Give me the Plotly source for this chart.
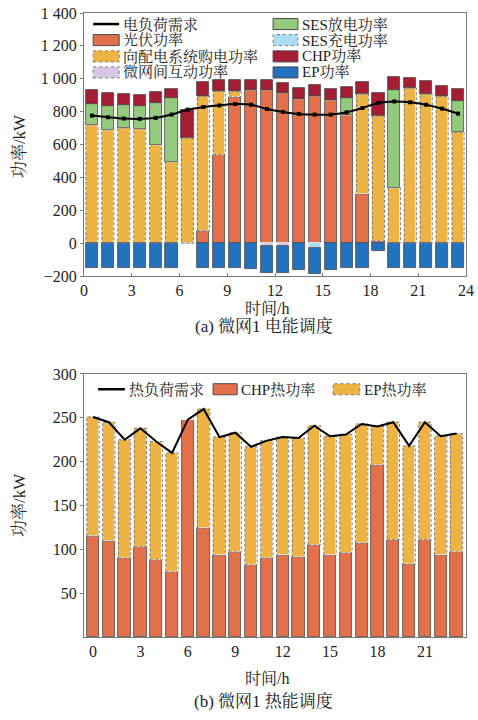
import plotly.graph_objects as go
from plotly.subplots import make_subplots

# ---------------- data: (a) electric dispatch ----------------
hours = list(range(24))
pv_power = [0, 0, 0, 0, 0, 0, 0, 75, 539, 889, 929, 929, 913, 879, 893, 873, 778, 297, 15, 0, 0, 0, 0, 0]
grid_buy = [721, 691, 701, 695, 600, 495, 641, 818, 384, 34, 0, 0, 0, 0, 0, 0, 0, 612, 761, 338, 944, 907, 893, 675]
ses_dis = [127, 141, 141, 137, 253, 388, 0, 0, 0, 0, 0, 0, 0, 0, 0, 0, 105, 0, 0, 595, 0, 0, 0, 192]
chp_power = [81, 81, 67, 71, 64, 56, 171, 85, 71, 71, 65, 61, 61, 65, 71, 65, 67, 71, 137, 77, 60, 81, 65, 71]
mg_inter = [0, 0, 0, 0, 0, 0, 0, 0, 0, 0, 0, -20, -20, 0, 0, 0, 0, 0, 0, 0, 0, 0, 0, 0]
ses_chg = [0, 0, 0, 0, 0, 0, 0, 0, 0, 0, 0, 0, 0, 0, -27, 0, 0, 0, 0, 0, 0, 0, 0, 0]
ep_power = [-152, -152, -152, -152, -152, -152, 0, -152, -152, -152, -158, -160, -160, -162, -160, -162,
            -150, -150, -47, -152, -152, -152, -152, -152]
elec_load = [776, 766, 758, 756, 762, 782, 812, 828, 838, 846, 842, 816, 798, 786, 782, 782, 796, 822,
             853, 862, 857, 842, 818, 788]
elec_yticks = [-200, 0, 200, 400, 600, 800, 1000, 1200, 1400]
elec_yticklabels = ["−200", "0", "200", "400", "600", "800", "1 000", "1 200", "1 400"]
elec_xticks = [0, 3, 6, 9, 12, 15, 18, 21, 24]
elec_names = ["电负荷需求", "光伏功率", "向配电系统购电功率", "微网间互动功率",
              "SES放电功率", "SES充电功率", "CHP功率", "EP功率"]

# ---------------- data: (b) heat dispatch ----------------
chp_heat = [115, 109, 90, 103, 88, 74, 248, 124, 93, 97, 82, 90, 93, 91, 105, 93, 96, 107, 196, 111, 83, 111, 93, 97]
ep_heat = [136, 136, 135, 135, 135, 136, 0, 136, 135, 136, 135, 134, 135, 136, 136, 136, 135, 136, 44, 134, 135, 134, 136, 135]
heat_load = [251, 245, 225, 238, 223, 210, 248, 260, 228, 233, 217, 224, 228, 227, 241, 229, 231, 243, 240, 245,
             218, 245, 229, 232]
heat_yticks = [50, 100, 150, 200, 250, 300]
heat_xticks = [0, 3, 6, 9, 12, 15, 18, 21]
heat_names = ["热负荷需求", "CHP热功率", "EP热功率"]

# ---------------- style ----------------
FONT = "Liberation Serif, Noto Serif CJK SC, Noto Sans CJK SC, serif"
C_PV = "#E2704B"
C_GRID = "#EDB445"
C_SESD = "#93CA7E"
C_SESC = "#A8DDF2"
C_CHP = "#A51D32"
C_EP = "#2272BE"
C_MG = "#D9C7E6"
EDGE = "#4a4a4a"
DASH = "#7a7a7a"

fig = make_subplots(rows=2, cols=1, vertical_spacing=0.157)

xe = [h + 0.5 for h in hours]
bw_e = 0.76
bw_h = 0.78


def bar(name, x, y, color, dashed=False, width=bw_e):
    return go.Bar(
        name=name, x=x, y=y, width=width, showlegend=False,
        marker=dict(color=color, line=dict(color="white" if dashed else EDGE, width=0.8)),
    )


def dashed_outline(x, base, height, width):
    """Dashed outline traced around stacked bar segments (data coords)."""
    xs, ys = [], []
    for xi, b, h in zip(x, base, height):
        if h == 0:
            continue
        l, r = xi - width / 2, xi + width / 2
        t = b + h
        xs += [l, r, r, l, l, None]
        ys += [b, b, t, t, b, None]
    return go.Scatter(x=xs, y=ys, mode="lines", showlegend=False, hoverinfo="skip",
                      line=dict(color=DASH, width=1, dash="3px,2px"))


fig.add_trace(bar(elec_names[1], xe, pv_power, C_PV), row=1, col=1)
fig.add_trace(bar(elec_names[2], xe, grid_buy, C_GRID, True), row=1, col=1)
fig.add_trace(bar(elec_names[3], xe, mg_inter, C_MG, True), row=1, col=1)
fig.add_trace(bar(elec_names[5], xe, ses_chg, C_SESC, True), row=1, col=1)
fig.add_trace(bar(elec_names[4], xe, ses_dis, C_SESD), row=1, col=1)
fig.add_trace(bar(elec_names[6], xe, chp_power, C_CHP), row=1, col=1)
fig.add_trace(bar(elec_names[7], xe, ep_power, C_EP), row=1, col=1)
fig.add_trace(dashed_outline(xe, pv_power, grid_buy, bw_e), row=1, col=1)
fig.add_trace(go.Scatter(name=elec_names[0], x=xe, y=elec_load, mode="lines", showlegend=False,
                         line=dict(color="black", width=2, shape="spline")), row=1, col=1)
fig.add_trace(go.Scatter(x=xe, y=elec_load, mode="markers", showlegend=False,
                         marker=dict(color="black", size=4, symbol="square")), row=1, col=1)

fig.add_trace(bar(heat_names[1], hours, chp_heat, C_PV, width=bw_h), row=2, col=1)
fig.add_trace(bar(heat_names[2], hours, ep_heat, C_GRID, True, width=bw_h), row=2, col=1)
fig.add_trace(dashed_outline(hours, chp_heat, ep_heat, bw_h), row=2, col=1)
fig.add_trace(go.Scatter(name=heat_names[0], x=hours, y=heat_load, mode="lines", showlegend=False,
                         line=dict(color="black", width=2)), row=2, col=1)

axis_common = dict(showline=True, mirror=True, linecolor="#7a7a7a", linewidth=1, showgrid=False,
                   zeroline=False, ticklen=3, tickcolor="#7a7a7a", automargin=False,
                   ticklabeloverflow="allow",
                   tickfont=dict(family=FONT, size=16, color="#222"))

fig.update_xaxes(range=[0, 24], tickvals=elec_xticks, ticks="inside", row=1, col=1, **axis_common)
fig.update_yaxes(range=[-200, 1400], tickvals=elec_yticks, ticktext=elec_yticklabels, ticks="outside",
                 row=1, col=1, **axis_common)
fig.update_xaxes(range=[-0.57, 23.6], tickvals=heat_xticks, ticks="inside", row=2, col=1, **axis_common)
fig.update_yaxes(range=[0, 300], tickvals=heat_yticks, ticks="outside", row=2, col=1, **axis_common)

fig.update_layout(
    width=478, height=720,
    margin=dict(l=84, r=12, t=13, b=83, autoexpand=False),
    barmode="relative", bargap=0,
    plot_bgcolor="white", paper_bgcolor="white",
    font=dict(family=FONT, size=14, color="#222"),
    showlegend=False,
)

# ---------------- legends (drawn in axis-domain coordinates) ----------------
LEG_FONT = dict(family=FONT, size=15, color="#222")


def legend_item(xd, yd, x0, x1, yc, h, label, kind, color, dashed=False):
    if kind == "line":
        fig.add_shape(type="line", xref=xd, yref=yd, x0=x0, x1=x1, y0=yc, y1=yc,
                      line=dict(color="black", width=2.5))
    else:
        fig.add_shape(type="rect", xref=xd, yref=yd, x0=x0, x1=x1, y0=yc - h, y1=yc + h,
                      fillcolor=color,
                      line=dict(color=DASH if dashed else EDGE, width=1, dash="dot" if dashed else "solid"))
    fig.add_annotation(text=label, xref=xd, yref=yd, x=x1 + 0.006, y=yc, xanchor="left", yanchor="middle",
                       showarrow=False, font=LEG_FONT)


rows_y = [0.958, 0.897, 0.835, 0.774]
sh = 0.021
c1 = (0.024, 0.092)
c2 = (0.495, 0.560)
top_items = [
    (c1, rows_y[0], elec_names[0], "line", "black", False),
    (c1, rows_y[1], elec_names[1], "rect", C_PV, False),
    (c1, rows_y[2], elec_names[2], "rect", C_GRID, True),
    (c1, rows_y[3], elec_names[3], "rect", C_MG, True),
    (c2, rows_y[0], elec_names[4], "rect", C_SESD, False),
    (c2, rows_y[1], elec_names[5], "rect", C_SESC, True),
    (c2, rows_y[2], elec_names[6], "rect", C_CHP, False),
    (c2, rows_y[3], elec_names[7], "rect", C_EP, False),
]
for (a, b), yc, label, kind, color, dashed in top_items:
    legend_item("x domain", "y domain", a, b, yc, sh, label, kind, color, dashed)

hy = 0.942
bot_items = [
    ((0.037, 0.107), heat_names[0], "line", "black", False),
    ((0.338, 0.401), heat_names[1], "rect", C_PV, False),
    ((0.652, 0.722), heat_names[2], "rect", C_GRID, True),
]
for (a, b), label, kind, color, dashed in bot_items:
    legend_item("x2 domain", "y2 domain", a, b, hy, sh, label, kind, color, dashed)

# ---------------- axis titles & captions ----------------
ann = dict(xref="paper", yref="paper", showarrow=False, xanchor="center", yanchor="middle",
           font=dict(family=FONT, size=17, color="#222"))
fig.add_annotation(text="时间/h", x=0.48, y=0.527, font=dict(family=FONT, size=16, color="#222"),
                   xref="paper", yref="paper", showarrow=False, xanchor="center", yanchor="middle")
fig.add_annotation(text="(a) 微网1 电能调度", x=0.47, y=0.497, **ann)
fig.add_annotation(text="时间/h", x=0.48, y=-0.067, font=dict(family=FONT, size=16, color="#222"),
                   xref="paper", yref="paper", showarrow=False, xanchor="center", yanchor="middle")
fig.add_annotation(text="(b) 微网1 热能调度", x=0.47, y=-0.103, **ann)
fig.add_annotation(text="功率/kW", x=-0.167, y=0.787, textangle=-90, **ann)
fig.add_annotation(text="功率/kW", x=-0.167, y=0.212, textangle=-90, **ann)

# the page's default 8px body margin would offset the figure inside the 478x720 window
fig.write_html("out.html", config={"displayModeBar": False},
               post_script="document.body.style.margin='0px';")
